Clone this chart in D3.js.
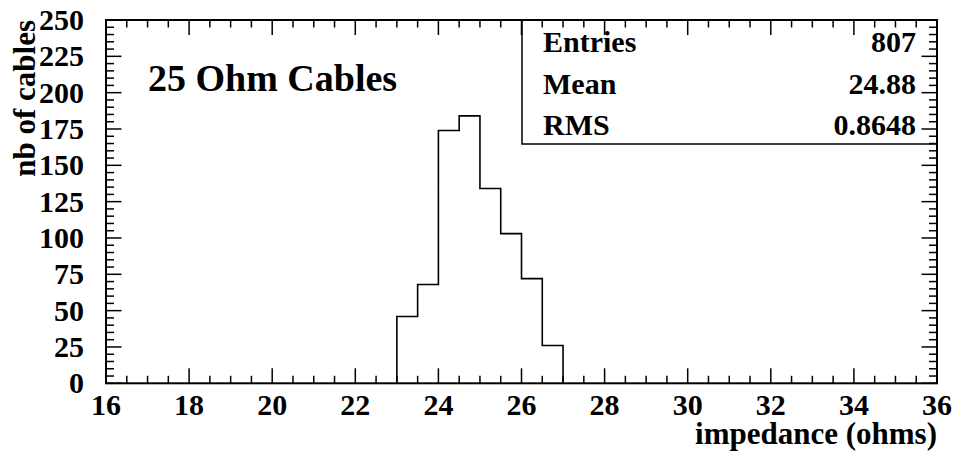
<!DOCTYPE html>
<html><head><meta charset="utf-8">
<script src="https://cdn.jsdelivr.net/npm/d3@7"></script>
<style>
html,body{margin:0;padding:0;background:#fff;}
svg text{font-family:"Liberation Serif","Times New Roman",serif;font-weight:bold;fill:#000;}
</style></head>
<body>
<svg id="c" width="958" height="457"></svg>
<script>
// ---- data ----
const binStart = 23.0;
const binWidth = 0.5;
const counts = [46, 68, 174, 184, 134, 103, 72, 26];
const xTicks = [16, 18, 20, 22, 24, 26, 28, 30, 32, 34, 36];
const yTicks = [0, 25, 50, 75, 100, 125, 150, 175, 200, 225, 250];
const statLabels = ["Entries", "Mean", "RMS"];
const statValues = ["807", "24.88", "0.8648"];
const titleText = "25 Ohm Cables";
const xTitle = "impedance (ohms)";
const yTitle = "nb of cables";

// ---- layout ----
const L = 106, R = 937, T = 20, B = 383.3;
const svg = d3.select("#c");
const x = d3.scaleLinear().domain([16, 36]).range([L, R]);
const y = d3.scaleLinear().domain([0, 250]).range([B, T]);

// histogram step path
const pts = [[binStart, 0]];
counts.forEach((c, i) => {
  const x0 = binStart + i * binWidth, x1 = x0 + binWidth;
  pts.push([x0, c]); pts.push([x1, c]);
});
pts.push([binStart + counts.length * binWidth, 0]);
svg.append("path")
  .attr("d", d3.line().x(d => x(d[0])).y(d => y(d[1]))(pts))
  .attr("fill", "none").attr("stroke", "#000").attr("stroke-width", 1.6);

// stats box
const boxL = 522, boxB = 144;
svg.append("rect").attr("x", boxL).attr("y", T).attr("width", R - boxL).attr("height", boxB - T)
  .attr("fill", "none").attr("stroke", "#000").attr("stroke-width", 1.5);
statLabels.forEach((s, i) => {
  const by = 52 + i * 41.7;
  svg.append("text").attr("x", 543).attr("y", by).attr("font-size", 30).text(s);
  svg.append("text").attr("x", 916).attr("y", by).attr("font-size", 30).attr("text-anchor", "end").text(statValues[i]);
});

// ticks
const minorX = d3.range(16, 36.001, 0.5);
const minorY = d3.range(0, 250.001, 5);
const tk = svg.append("g").attr("stroke", "#000").attr("stroke-width", 1.5);
minorX.forEach(v => {
  const major = Math.abs(v / 2 - Math.round(v / 2)) < 1e-6;
  const len = major ? 15 : 7.5;
  tk.append("line").attr("x1", x(v)).attr("x2", x(v)).attr("y1", B).attr("y2", B - len);
  tk.append("line").attr("x1", x(v)).attr("x2", x(v)).attr("y1", T).attr("y2", T + len);
});
minorY.forEach(v => {
  const major = v % 25 === 0;
  const len = major ? 15.5 : 8;
  tk.append("line").attr("x1", L).attr("x2", L + len).attr("y1", y(v)).attr("y2", y(v));
  tk.append("line").attr("x1", R).attr("x2", R - len).attr("y1", y(v)).attr("y2", y(v));
});

// frame
svg.append("rect").attr("x", L).attr("y", T).attr("width", R - L).attr("height", B - T)
  .attr("fill", "none").attr("stroke", "#000").attr("stroke-width", 2);

// tick labels
xTicks.forEach(v => {
  svg.append("text").attr("x", x(v)).attr("y", 415).attr("font-size", 30)
    .attr("text-anchor", "middle").text(v);
});
yTicks.forEach(v => {
  svg.append("text").attr("x", 84).attr("y", y(v) + 10).attr("font-size", 30)
    .attr("text-anchor", "end").text(v);
});

// titles
svg.append("text").attr("x", 148).attr("y", 91).attr("font-size", 38).text(titleText);
svg.append("text").attr("x", R).attr("y", 444).attr("font-size", 31).attr("text-anchor", "end").text(xTitle);
svg.append("text").attr("transform", "translate(35," + T + ") rotate(-90)")
  .attr("font-size", 31).attr("text-anchor", "end").text(yTitle);
</script>
</body></html>
